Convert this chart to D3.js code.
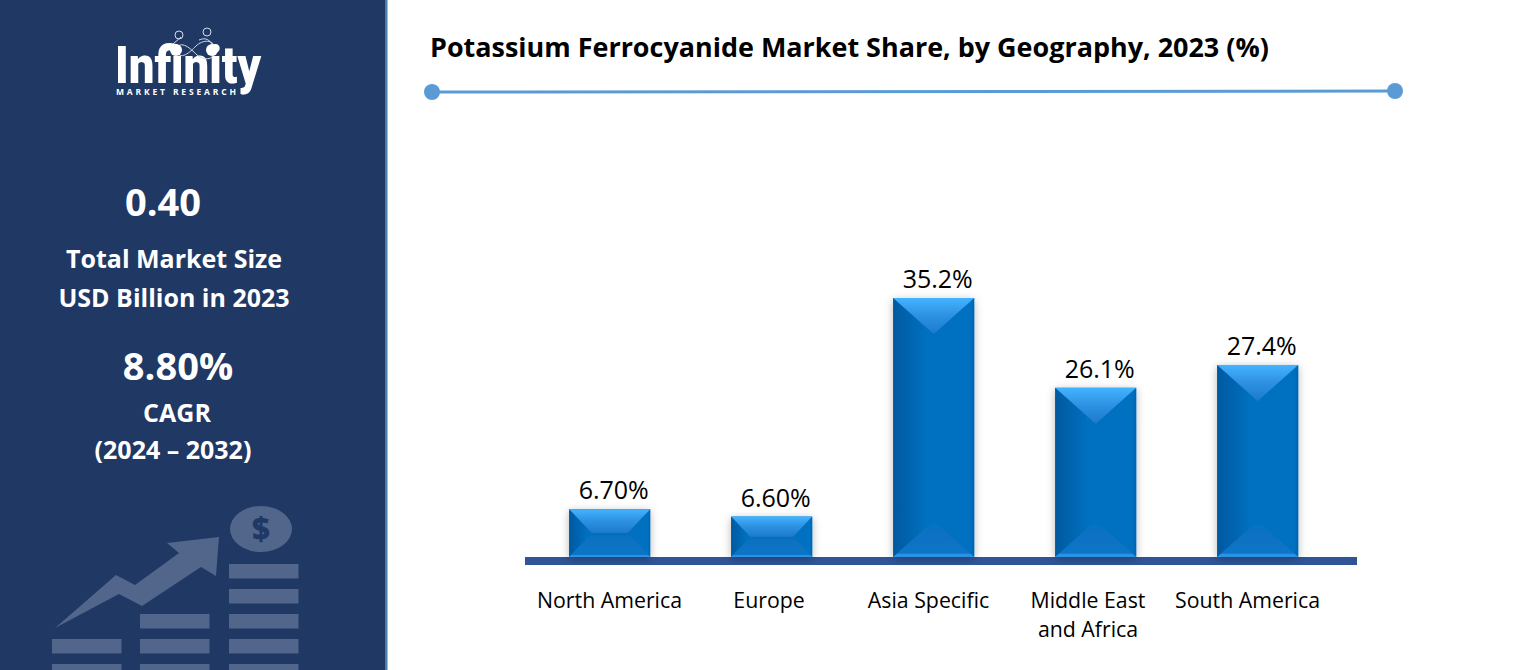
<!DOCTYPE html>
<html>
<head>
<meta charset="utf-8">
<title>Potassium Ferrocyanide Market Share</title>
<script src="https://cdn.jsdelivr.net/npm/d3@7"></script>
<style>
   html, body { margin: 0; padding: 0; background: #fff; overflow: hidden; }
   svg { display: block; }
   text { font-family: "Open Sans", sans-serif; }
   #xAxis path, #xAxis line { display: none; }
</style>
</head>
<body>
<svg id="canvas"></svg>
<script>
// Data
const regions = ["North America", "Europe", "Asia Specific", "Middle East and Africa", "South America"];
const printedLabels = ["6.70%", "6.60%", "35.2%", "26.1%", "27.4%"];
// Bar heights in the picture do not follow the printed labels, so they are kept apart
const barLevels = [6.5, 5.5, 35.2, 23, 26.1];

const panelNumbers = [
   { text: "0.40", cx: 163, y: 216 },
   { text: "8.80%", cx: 178, y: 380 }
];
const panelLines = [
   { text: "Total Market Size", cx: 174, y: 268 },
   { text: "USD Billion in 2023", cx: 174, y: 307 },
   { text: "CAGR", cx: 177, y: 422 },
   { text: "(2024 – 2032)", cx: 173, y: 459 }
];

const svgWidth = 1516;
const svgHeight = 670;
const canvas = d3.select("#canvas").attr("width", svgWidth).attr("height", svgHeight);
const defs = canvas.append("defs");

// Scales
const xBars = d3.scaleBand().domain(regions).range([528.7, 1338.7]).paddingInner(0.5).paddingOuter(0.25);
const xLabels = d3.scalePoint().domain(regions).range([609, 1247]);
const yScale = d3.scaleLinear().domain([0, 35.2]).range([557, 298]);

// Gradients for the bevelled bars
const addGradient = (id, x2, y2, stops) => {
   const g = defs.append("linearGradient").attr("id", id)
      .attr("x1", 0).attr("y1", 0).attr("x2", x2).attr("y2", y2);
   stops.forEach(s => g.append("stop").attr("offset", s[0]).attr("stop-color", s[1]));
};
addGradient("faceTop", 0, 1, [[0, "#44b4ff"], [0.45, "#2f93e4"], [1, "#1c7acb"]]);
addGradient("faceLeft", 1, 0, [[0, "#04599f"], [0.8, "#0670c0"], [1, "#0670c0"]]);
addGradient("faceRight", 1, 0, [[0, "#0670c0"], [0.9, "#0670c0"], [1, "#0563ad"]]);
addGradient("faceBottom", 0, 1, [[0, "#0670c0"], [0.9, "#0a74c6"], [0.91, "#2c92e6"], [1, "#2c92e6"]]);
const shadow = defs.append("filter").attr("id", "barShadow")
   .attr("x", "-20%").attr("y", "-10%").attr("width", "140%").attr("height", "125%");
shadow.append("feDropShadow").attr("dx", 0).attr("dy", 2).attr("stdDeviation", 4)
   .attr("flood-color", "#000").attr("flood-opacity", 0.28);

// Left panel
canvas.append("rect").attr("width", 385).attr("height", svgHeight).attr("fill", "#1f3864");
canvas.append("rect").attr("x", 385).attr("width", 2.5).attr("height", svgHeight).attr("fill", "#4a7dae");

// Logo
const logo = canvas.append("g");
logo.append("text").attr("x", 115).attr("y", 83).attr("textLength", 146).attr("lengthAdjust", "spacingAndGlyphs")
   .attr("font-size", 52).attr("font-weight", 900).attr("fill", "#fff")
   .style("font-family", "Roboto, sans-serif").text("Infinity");
logo.append("text").attr("x", 116).attr("y", 95).attr("textLength", 120)
   .attr("font-size", 8.5).attr("font-weight", 700).attr("fill", "#fff").text("MARKET RESEARCH");
logo.append("path")
   .attr("d", "M176,50 C180,38 192,50 196,54 C202,60 214,62 216,50 C214,38 202,40 196,46 C190,52 180,62 176,50Z")
   .attr("fill", "none").attr("stroke", "#d5dbe6").attr("stroke-width", 1);
logo.append("path").attr("d", "M173,44 L181,37 M212,44 C208,38 204,38 199,40")
   .attr("fill", "none").attr("stroke", "#d5dbe6").attr("stroke-width", 1);
logo.selectAll("circle.head").data([[179, 35], [207, 32]]).enter().append("circle")
   .attr("cx", d => d[0]).attr("cy", d => d[1]).attr("r", 4)
   .attr("fill", "none").attr("stroke", "#d5dbe6").attr("stroke-width", 1);
logo.selectAll("circle.body").data([[176, 50], [212, 50]]).enter().append("circle")
   .attr("cx", d => d[0]).attr("cy", d => d[1]).attr("r", 6).attr("fill", "#fff");

// Panel text
canvas.selectAll("text.number").data(panelNumbers).enter().append("text")
   .attr("class", "number")
   .attr("x", d => d.cx).attr("y", d => d.y).attr("text-anchor", "middle")
   .attr("font-size", 38).attr("font-weight", 700).attr("fill", "#fff").text(d => d.text);
canvas.selectAll("text.line").data(panelLines).enter().append("text")
   .attr("class", "line")
   .attr("x", d => d.cx).attr("y", d => d.y).attr("text-anchor", "middle")
   .attr("font-size", 25).attr("font-weight", 700).attr("fill", "#fff").text(d => d.text);

// Panel icon, decoration only
const icon = canvas.append("g").attr("fill", "#51668a");
icon.append("path").attr("d", "M55,628 L116,575 L135,585 L179,553 L167,543 L219,537 L216,576 L201,567 L142,606 L119,594 Z");
icon.append("ellipse").attr("cx", 261).attr("cy", 529).attr("rx", 31).attr("ry", 23);
icon.append("text").attr("x", 261).attr("y", 540).attr("text-anchor", "middle")
   .attr("font-size", 31).attr("font-weight", 800).attr("fill", "#1f3864").text("$");
[[52, [639, 664]], [140, [614, 639, 664]], [229, [564, 589, 614, 639, 664]]].forEach(col => {
   col[1].forEach(y => {
      icon.append("rect").attr("x", col[0]).attr("y", y).attr("width", 69.5).attr("height", 14.5);
   });
});

// Title and rule
canvas.append("text").attr("x", 430).attr("y", 57).attr("font-size", 26.95).attr("font-weight", 700)
   .attr("fill", "#000").text("Potassium Ferrocyanide Market Share, by Geography, 2023 (%)");
canvas.append("line").attr("x1", 432).attr("y1", 92).attr("x2", 1395).attr("y2", 91)
   .attr("stroke", "#5b9bd5").attr("stroke-width", 3);
canvas.selectAll("circle.end").data([[432, 92], [1395, 91]]).enter().append("circle")
   .attr("cx", d => d[0]).attr("cy", d => d[1]).attr("r", 8).attr("fill", "#5b9bd5");

// Baseline band
canvas.append("rect").attr("x", 525).attr("y", 557).attr("width", 832).attr("height", 8).attr("fill", "#2f5597");

// Bars, each made of four bevel faces
const bars = canvas.selectAll("g.bar")
   .data(regions.map((r, i) => ({ region: r, level: barLevels[i], label: printedLabels[i] })))
   .enter().append("g").attr("class", "bar").attr("filter", "url(#barShadow)");

const toPoints = pts => pts.map(p => p.join(",")).join(" ");
bars.each(function (d) {
   const g = d3.select(this);
   const x0 = xBars(d.region);
   const x1 = x0 + xBars.bandwidth();
   const top = yScale(d.level);
   const bottom = yScale(0);
   const h = bottom - top;
   const w = x1 - x0;
   // Short bars end up with a trapezoid top, tall ones with a triangle
   const depth = Math.min(h / 2, 36);
   const inset = h > 100 ? w / 2 : depth * 0.95;
   g.append("rect").attr("x", x0).attr("y", top).attr("width", w).attr("height", h).attr("fill", "#0670c0");
   g.append("polygon").attr("fill", "url(#faceLeft)")
      .attr("points", toPoints([[x0, top], [x0 + inset, top + depth], [x0 + inset, bottom - depth], [x0, bottom]]));
   g.append("polygon").attr("fill", "url(#faceRight)")
      .attr("points", toPoints([[x1, top], [x1 - inset, top + depth], [x1 - inset, bottom - depth], [x1, bottom]]));
   g.append("polygon").attr("fill", "url(#faceBottom)")
      .attr("points", toPoints([[x0, bottom], [x0 + inset, bottom - depth], [x1 - inset, bottom - depth], [x1, bottom]]));
   g.append("polygon").attr("fill", "url(#faceTop)")
      .attr("points", toPoints([[x0, top], [x1, top], [x1 - inset, top + depth], [x0 + inset, top + depth]]));
});

// Printed value labels
canvas.selectAll("text.value").data(bars.data()).enter().append("text")
   .attr("class", "value")
   .attr("x", d => xBars(d.region) + xBars.bandwidth() / 2 + 4)
   .attr("y", d => yScale(d.level) - 10)
   .attr("text-anchor", "middle").attr("font-size", 25).attr("fill", "#000").text(d => d.label);

// Category axis, long names break on two lines
const xAxis = canvas.append("g").attr("id", "xAxis").attr("transform", "translate(0,590)")
   .call(d3.axisBottom(xLabels).tickSize(0).tickPadding(0));
xAxis.selectAll("text").each(function (d) {
   const t = d3.select(this).text("").attr("fill", "#000").attr("font-size", 21.3)
      .style("font-family", "'Open Sans', sans-serif").attr("y", 18);
   const parts = d === "Middle East and Africa" ? ["Middle East", "and Africa"] : [d];
   parts.forEach((p, i) => t.append("tspan").attr("x", 0).attr("dy", i ? 29 : 0).text(p));
});
</script>
</body>
</html>
